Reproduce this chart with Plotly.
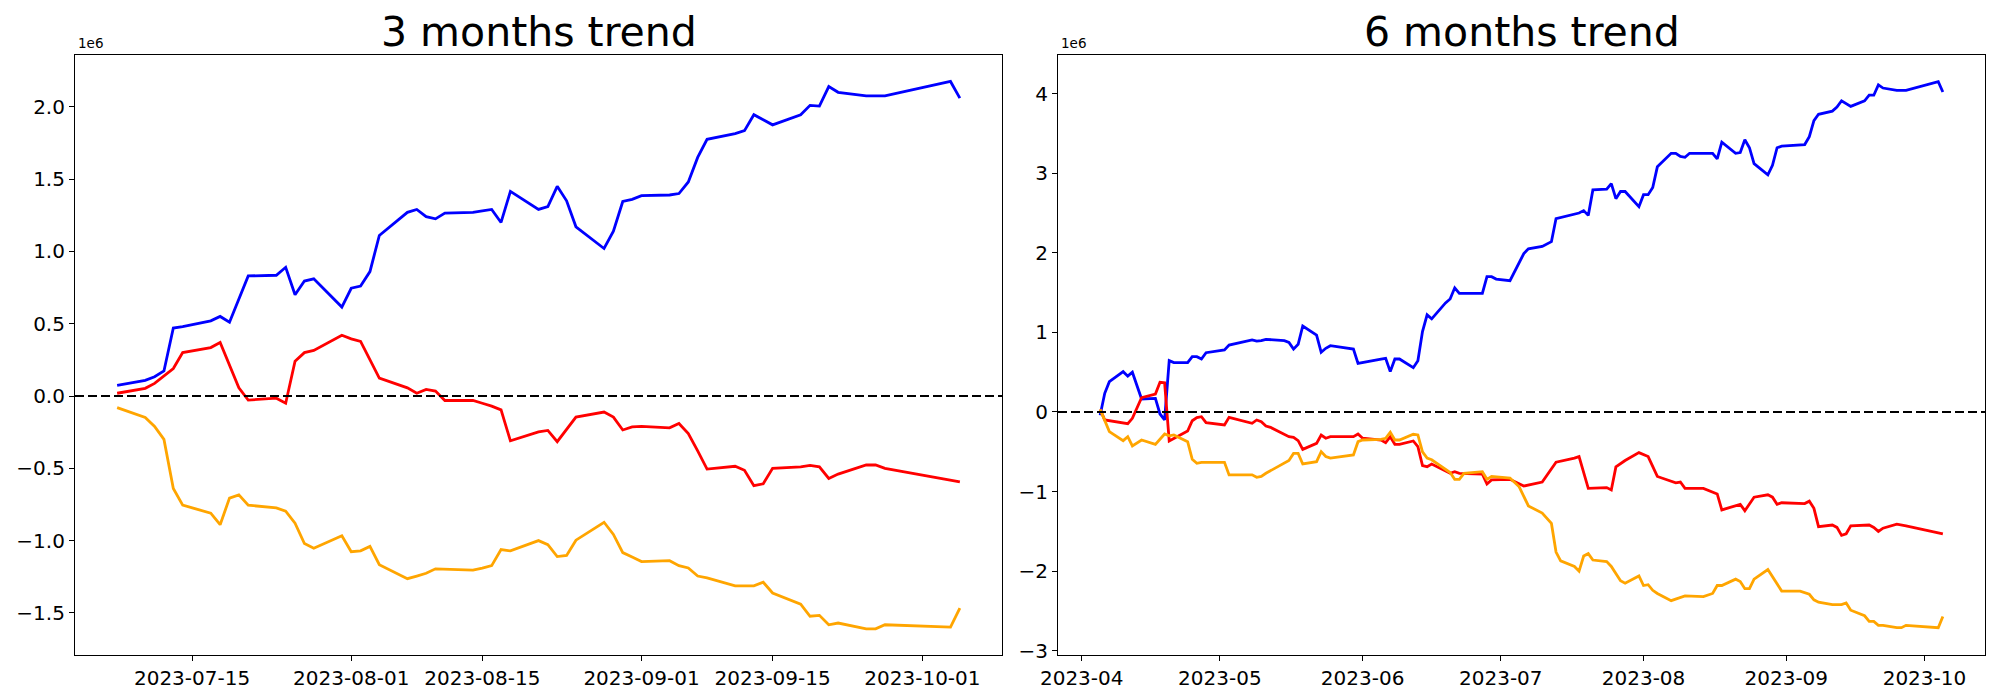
import plotly.graph_objects as go

Y = "2023-"

# ---------------- 3 months panel (values in 1e6) ----------------
dates3 = ["07-07", "07-10", "07-11", "07-12", "07-13", "07-14", "07-17", "07-18", "07-19", "07-20",
          "07-21", "07-24", "07-25", "07-26", "07-27", "07-28", "07-31", "08-01", "08-02", "08-03",
          "08-04", "08-07", "08-08", "08-09", "08-10", "08-11", "08-14", "08-15", "08-16", "08-17",
          "08-18", "08-21", "08-22", "08-23", "08-24", "08-25", "08-28", "08-29", "08-30", "08-31",
          "09-01", "09-04", "09-05", "09-06", "09-07", "09-08", "09-11", "09-12", "09-13", "09-14",
          "09-15", "09-18", "09-19", "09-20", "09-21", "09-22", "09-25", "09-26", "09-27", "10-04",
          "10-05"]
blue3 = [0.074, 0.108, 0.133, 0.173, 0.47, 0.48, 0.52, 0.55, 0.51, 0.67,
         0.83, 0.835, 0.89, 0.70, 0.795, 0.81, 0.615, 0.745, 0.76, 0.86,
         1.11, 1.27, 1.29, 1.24, 1.225, 1.265, 1.27, 1.28, 1.29, 1.20,
         1.415, 1.29, 1.31, 1.45, 1.35, 1.17, 1.02, 1.14, 1.345, 1.36,
         1.385, 1.39, 1.40, 1.48, 1.65, 1.775, 1.815, 1.835, 1.945, 1.91,
         1.875, 1.945, 2.01, 2.005, 2.14, 2.10, 2.075, 2.075, 2.075, 2.175,
         2.06]
red3 = [0.019, 0.053, 0.087, 0.14, 0.19, 0.30, 0.335, 0.37, 0.21, 0.056,
        -0.028, -0.015, -0.05, 0.24, 0.30, 0.315, 0.42, 0.395, 0.377, 0.25,
        0.124, 0.056, 0.019, 0.046, 0.034, -0.031, -0.031, -0.05, -0.07, -0.096,
        -0.31, -0.248, -0.238, -0.316, -0.23, -0.146, -0.111, -0.146, -0.235, -0.214,
        -0.21, -0.22, -0.19, -0.26, -0.38, -0.505, -0.486, -0.514, -0.62, -0.607,
        -0.50, -0.49, -0.48, -0.49, -0.57, -0.54, -0.477, -0.477, -0.50, -0.58,
        -0.594]
orange3 = [-0.08, -0.149, -0.21, -0.30, -0.64, -0.755, -0.81, -0.89, -0.706, -0.684,
           -0.755, -0.774, -0.796, -0.88, -1.02, -1.053, -0.966, -1.077, -1.071, -1.04,
           -1.167, -1.263, -1.245, -1.226, -1.195, -1.197, -1.204, -1.19, -1.173, -1.062,
           -1.071, -1.0, -1.028, -1.11, -1.102, -0.997, -0.873, -0.957, -1.083, -1.114,
           -1.145, -1.139, -1.173, -1.189, -1.245, -1.257, -1.313, -1.313, -1.313, -1.288,
           -1.362, -1.44, -1.523, -1.517, -1.582, -1.57, -1.61, -1.61, -1.582, -1.598,
           -1.467]

# ---------------- 6 months panel (values in 1e6) ----------------
blue6_dates = ["04-05", "04-06", "04-07", "04-10", "04-11", "04-12", "04-14", "04-17", "04-18", "04-19",
               "04-20", "04-21", "04-24", "04-25", "04-26", "04-27", "04-28", "05-02", "05-03", "05-08",
               "05-09", "05-10", "05-11", "05-15", "05-16", "05-17", "05-18", "05-19", "05-22", "05-23",
               "05-24", "05-25", "05-30", "05-31", "06-05", "06-06", "06-07", "06-08", "06-09", "06-12",
               "06-13", "06-14", "06-15", "06-16", "06-19", "06-20", "06-21", "06-22", "06-27", "06-28",
               "06-29", "06-30", "07-03", "07-06", "07-07", "07-10", "07-12", "07-13", "07-18", "07-19",
               "07-20", "07-21", "07-24", "07-25", "07-26", "07-27", "07-28", "07-31", "08-01", "08-02",
               "08-03", "08-04", "08-07", "08-08", "08-09", "08-10", "08-11", "08-16", "08-17", "08-18",
               "08-21", "08-22", "08-23", "08-24", "08-25", "08-28", "08-29", "08-30", "08-31", "09-05",
               "09-06", "09-07", "09-08", "09-11", "09-12", "09-13", "09-15", "09-18", "09-19", "09-20",
               "09-21", "09-22", "09-25", "09-27", "10-04", "10-05"]
blue6 = [-0.04, 0.235, 0.38, 0.507, 0.45, 0.50, 0.163, 0.17, -0.025, -0.10,
         0.645, 0.62, 0.62, 0.695, 0.695, 0.666, 0.745, 0.78, 0.84, 0.905,
         0.89, 0.896, 0.913, 0.896, 0.875, 0.79, 0.85, 1.08, 0.967, 0.75,
         0.80, 0.833, 0.79, 0.61, 0.665, 0.674, 0.507, 0.666, 0.666, 0.557,
         0.645, 1.01, 1.22, 1.17, 1.37, 1.42, 1.56, 1.49, 1.49, 1.70,
         1.70, 1.67, 1.65, 1.99, 2.05, 2.08, 2.14, 2.43, 2.50, 2.53,
         2.47, 2.79, 2.80, 2.87, 2.68, 2.77, 2.77, 2.58, 2.73, 2.73,
         2.82, 3.08, 3.25, 3.25, 3.21, 3.20, 3.25, 3.25, 3.18, 3.39,
         3.25, 3.26, 3.42, 3.32, 3.12, 2.98, 3.10, 3.32, 3.34, 3.36,
         3.46, 3.66, 3.74, 3.78, 3.83, 3.91, 3.84, 3.91, 3.98, 3.98,
         4.11, 4.07, 4.04, 4.04, 4.15, 4.02]

red6_dates = ["04-05", "04-06", "04-11", "04-12", "04-14", "04-17", "04-18", "04-19", "04-20", "04-24",
              "04-25", "04-26", "04-27", "04-28", "05-02", "05-03", "05-08", "05-09", "05-10", "05-11",
              "05-12", "05-15", "05-16", "05-17", "05-18", "05-19", "05-22", "05-23", "05-24", "05-25",
              "05-30", "05-31", "06-01", "06-05", "06-06", "06-07", "06-08", "06-09", "06-12", "06-13",
              "06-14", "06-15", "06-16", "06-20", "06-21", "06-22", "06-26", "06-27", "06-28", "06-29",
              "07-03", "07-06", "07-10", "07-11", "07-13", "07-17", "07-18", "07-20", "07-24", "07-25",
              "07-26", "07-28", "07-31", "08-02", "08-04", "08-08", "08-09", "08-10", "08-14", "08-17",
              "08-18", "08-22", "08-23", "08-25", "08-28", "08-29", "08-30", "08-31", "09-05", "09-06",
              "09-07", "09-08", "09-11", "09-12", "09-13", "09-14", "09-15", "09-19", "09-20", "09-21",
              "09-22", "09-25", "09-27", "10-05"]
red6 = [0.033, -0.10, -0.147, -0.08, 0.18, 0.226, 0.373, 0.368, -0.364, -0.24,
        -0.11, -0.07, -0.059, -0.134, -0.163, -0.067, -0.142, -0.10, -0.121, -0.176,
        -0.193, -0.276, -0.31, -0.318, -0.36, -0.47, -0.394, -0.29, -0.33, -0.31,
        -0.31, -0.276, -0.33, -0.352, -0.385, -0.31, -0.406, -0.406, -0.364, -0.435,
        -0.674, -0.687, -0.653, -0.77, -0.75, -0.77, -0.78, -0.78, -0.905, -0.854,
        -0.846, -0.93, -0.88, -0.80, -0.63, -0.58, -0.56, -0.96, -0.95, -0.98,
        -0.69, -0.61, -0.51, -0.56, -0.81, -0.89, -0.88, -0.96, -0.96, -1.03,
        -1.23, -1.16, -1.24, -1.07, -1.04, -1.07, -1.16, -1.14, -1.15, -1.12,
        -1.21, -1.44, -1.42, -1.45, -1.55, -1.53, -1.43, -1.42, -1.45, -1.50,
        -1.46, -1.41, -1.43, -1.53]

orange6_dates = ["04-05", "04-07", "04-10", "04-11", "04-12", "04-14", "04-17", "04-19", "04-20", "04-21",
                 "04-24", "04-25", "04-26", "04-27", "05-02", "05-03", "05-08", "05-09", "05-10", "05-11",
                 "05-16", "05-17", "05-18", "05-19", "05-22", "05-23", "05-24", "05-25", "05-30", "05-31",
                 "06-01", "06-05", "06-06", "06-07", "06-08", "06-09", "06-12", "06-13", "06-14", "06-15",
                 "06-16", "06-20", "06-21", "06-22", "06-23", "06-26", "06-27", "06-28", "06-29", "07-03",
                 "07-05", "07-07", "07-10", "07-12", "07-13", "07-14", "07-17", "07-18", "07-19", "07-20",
                 "07-21", "07-24", "07-25", "07-27", "07-28", "07-31", "08-01", "08-02", "08-03", "08-04",
                 "08-07", "08-10", "08-14", "08-16", "08-17", "08-18", "08-21", "08-22", "08-23", "08-24",
                 "08-25", "08-28", "08-30", "08-31", "09-04", "09-06", "09-07", "09-08", "09-11", "09-13",
                 "09-14", "09-15", "09-18", "09-19", "09-20", "09-21", "09-22", "09-25", "09-26", "09-27",
                 "10-04", "10-05"]
orange6 = [0.033, -0.247, -0.36, -0.31, -0.427, -0.352, -0.406, -0.276, -0.30, -0.289,
           -0.373, -0.595, -0.645, -0.632, -0.632, -0.79, -0.79, -0.82, -0.81, -0.77,
           -0.61, -0.52, -0.52, -0.653, -0.624, -0.498, -0.56, -0.58, -0.54, -0.373,
           -0.352, -0.343, -0.33, -0.255, -0.352, -0.352, -0.28, -0.289, -0.50, -0.58,
           -0.60, -0.76, -0.846, -0.846, -0.77, -0.75, -0.75, -0.846, -0.81, -0.83,
           -0.94, -1.18, -1.27, -1.40, -1.76, -1.87, -1.94, -2.00, -1.81, -1.78,
           -1.86, -1.88, -1.94, -2.12, -2.15, -2.06, -2.18, -2.17, -2.24, -2.28,
           -2.37, -2.31, -2.32, -2.28, -2.18, -2.18, -2.10, -2.13, -2.22, -2.22,
           -2.10, -1.98, -2.17, -2.25, -2.25, -2.29, -2.36, -2.39, -2.42, -2.42,
           -2.40, -2.49, -2.56, -2.63, -2.63, -2.68, -2.68, -2.71, -2.71, -2.68,
           -2.71, -2.57]

# tick labels
xticks3 = ["2023-07-15", "2023-08-01", "2023-08-15", "2023-09-01", "2023-09-15", "2023-10-01"]
yticks3 = [-1.5, -1.0, -0.5, 0.0, 0.5, 1.0, 1.5, 2.0]
xticks6 = ["2023-04", "2023-05", "2023-06", "2023-07", "2023-08", "2023-09", "2023-10"]
yticks6 = [-3, -2, -1, 0, 1, 2, 3, 4]

titles = ["3 months trend", "6 months trend"]
colors = {"blue": "#0000ff", "red": "#ff0000", "orange": "#ffa500"}

W, H = 2000, 700
FONT = "DejaVu Sans"


def full(ds):
    return [Y + d for d in ds]


def mtxt(v, fmt):
    return fmt.format(v).replace("-", "\u2212")


fig = go.Figure()
LW = 2.8
for name, vals in [("blue", blue3), ("red", red3), ("orange", orange3)]:
    fig.add_trace(go.Scatter(x=full(dates3), y=vals, mode="lines", xaxis="x", yaxis="y",
                             line=dict(color=colors[name], width=LW), showlegend=False))
for name, ds, vals in [("blue", blue6_dates, blue6), ("red", red6_dates, red6),
                       ("orange", orange6_dates, orange6)]:
    fig.add_trace(go.Scatter(x=full(ds), y=vals, mode="lines", xaxis="x2", yaxis="y2",
                             line=dict(color=colors[name], width=LW), showlegend=False))

# axes geometry (pixels)
L1, R1 = 75, 1002
L2, R2 = 1058, 1985
T, B = 55, 655
ydom = [1 - B / H, 1 - T / H]

common = dict(showline=True, mirror=True, linecolor="black", linewidth=1.1,
              ticks="outside", ticklen=5, tickwidth=1.1, tickcolor="black",
              showgrid=False, zeroline=False, automargin=False,
              tickfont=dict(family=FONT, size=20, color="black"))

fig.update_layout(
    width=W, height=H,
    margin=dict(l=0, r=0, t=0, b=0, autoexpand=False),
    paper_bgcolor="white", plot_bgcolor="white",
    xaxis=dict(domain=[L1 / W, R1 / W], type="date",
               range=["2023-07-02 12:00", "2023-10-09 12:00"],
               tickvals=xticks3, ticktext=xticks3, anchor="y", **common),
    yaxis=dict(domain=ydom, range=[-1.791, 2.358], tickvals=yticks3,
               ticktext=[mtxt(v, "{:.1f}") for v in yticks3], anchor="x", **common),
    xaxis2=dict(domain=[L2 / W, R2 / W], type="date",
                range=["2023-03-26 20:24", "2023-10-14 03:36"],
                tickvals=[t + "-01" for t in xticks6], ticktext=xticks6, anchor="y2", **common),
    yaxis2=dict(domain=ydom, range=[-3.053, 4.485], tickvals=yticks6,
                ticktext=[mtxt(v, "{:d}") for v in yticks6], anchor="x2", **common),
)

# zero dashed lines
for xr, yr in [("x domain", "y"), ("x2 domain", "y2")]:
    fig.add_shape(type="line", xref=xr, yref=yr, x0=0, x1=1, y0=0, y1=0,
                  line=dict(color="black", width=2, dash="9px,4px"), layer="above")

# titles and offset labels
for (l, r), t in zip([(L1, R1), (L2, R2)], titles):
    fig.add_annotation(text=t, x=(l + r) / 2 / W, y=1 - 58 / H, xref="paper", yref="paper",
                       xanchor="center", yanchor="bottom", showarrow=False,
                       font=dict(family=FONT, size=41, color="black"))
    fig.add_annotation(text="1e6", x=(l + 1) / W, y=1 - 53 / H, xref="paper", yref="paper",
                       xanchor="left", yanchor="bottom", showarrow=False,
                       font=dict(family=FONT, size=13.5, color="black"))

fig.write_html("out.html", config={"displayModeBar": False},
               post_script="document.body.style.margin='0px';document.body.style.overflow='hidden';")
